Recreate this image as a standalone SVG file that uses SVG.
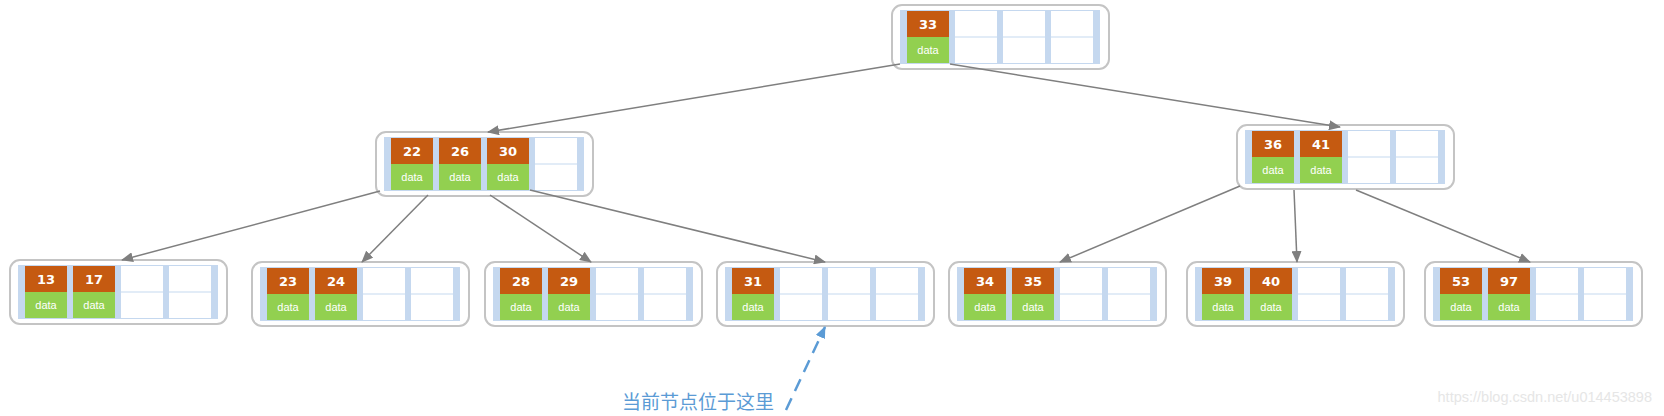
<svg xmlns="http://www.w3.org/2000/svg" xmlns:xlink="http://www.w3.org/1999/xlink" width="1664" height="416" viewBox="0 0 1664 416">
<style>
.outer{fill:#ffffff;stroke:#c4c4c4;stroke-width:2}
.band{fill:#c5d8ef}
.w{fill:#ffffff}
.k{fill:#c55a11}
.d{fill:#92d050}
.kt{font-family:"DejaVu Sans","Liberation Sans",sans-serif;font-size:13px;font-weight:bold;fill:#ffffff;text-anchor:middle}
.dt{font-family:"Liberation Sans",sans-serif;font-size:11px;fill:#ffffff;text-anchor:middle}
.edge{stroke:#7f7f7f;stroke-width:1.5;fill:none;marker-end:url(#arr)}
.note{stroke:#5b9bd5;stroke-width:2.5;fill:none;stroke-dasharray:13 8;marker-end:url(#arrb)}
</style>
<defs>
<marker id="arr" markerUnits="userSpaceOnUse" markerWidth="12" markerHeight="10" refX="11" refY="5" orient="auto">
<path d="M0,0 L12,5 L0,10 Z" fill="#7f7f7f"/>
</marker>
<marker id="arrb" markerUnits="userSpaceOnUse" markerWidth="12" markerHeight="10" refX="11" refY="5" orient="auto">
<path d="M0,0 L12,5 L0,10 Z" fill="#5b9bd5"/>
</marker>
<g id="tpl">
<rect class="outer" x="0" y="0" width="217" height="64" rx="10"/>
<rect class="band" x="8" y="5" width="200" height="54"/>
<rect class="w" x="15" y="6" width="42" height="25.5"/><rect class="w" x="15" y="32.5" width="42" height="25.5"/>
<rect class="w" x="63" y="6" width="42" height="25.5"/><rect class="w" x="63" y="32.5" width="42" height="25.5"/>
<rect class="w" x="111" y="6" width="42" height="25.5"/><rect class="w" x="111" y="32.5" width="42" height="25.5"/>
<rect class="w" x="159" y="6" width="42" height="25.5"/><rect class="w" x="159" y="32.5" width="42" height="25.5"/>
</g>
</defs>
<rect x="0" y="0" width="1664" height="416" fill="#ffffff"/>

<g id="n33" transform="translate(892,5)">
<use href="#tpl"/>
<rect class="k" x="15" y="6" width="42" height="26"/><rect class="d" x="15" y="32" width="42" height="26"/>
<text class="kt" x="36" y="24">33</text><text class="dt" x="36" y="49">data</text>
</g>

<g id="n22" transform="translate(376,132)">
<use href="#tpl"/>
<rect class="k" x="15" y="6" width="42" height="26"/><rect class="d" x="15" y="32" width="42" height="26"/>
<text class="kt" x="36" y="24">22</text><text class="dt" x="36" y="49">data</text>
<rect class="k" x="63" y="6" width="42" height="26"/><rect class="d" x="63" y="32" width="42" height="26"/>
<text class="kt" x="84" y="24">26</text><text class="dt" x="84" y="49">data</text>
<rect class="k" x="111" y="6" width="42" height="26"/><rect class="d" x="111" y="32" width="42" height="26"/>
<text class="kt" x="132" y="24">30</text><text class="dt" x="132" y="49">data</text>
</g>

<g id="n36" transform="translate(1237,125)">
<use href="#tpl"/>
<rect class="k" x="15" y="6" width="42" height="26"/><rect class="d" x="15" y="32" width="42" height="26"/>
<text class="kt" x="36" y="24">36</text><text class="dt" x="36" y="49">data</text>
<rect class="k" x="63" y="6" width="42" height="26"/><rect class="d" x="63" y="32" width="42" height="26"/>
<text class="kt" x="84" y="24">41</text><text class="dt" x="84" y="49">data</text>
</g>

<g id="n13" transform="translate(10,260)">
<use href="#tpl"/>
<rect class="k" x="15" y="6" width="42" height="26"/><rect class="d" x="15" y="32" width="42" height="26"/>
<text class="kt" x="36" y="24">13</text><text class="dt" x="36" y="49">data</text>
<rect class="k" x="63" y="6" width="42" height="26"/><rect class="d" x="63" y="32" width="42" height="26"/>
<text class="kt" x="84" y="24">17</text><text class="dt" x="84" y="49">data</text>
</g>

<g id="n23" transform="translate(252,262)">
<use href="#tpl"/>
<rect class="k" x="15" y="6" width="42" height="26"/><rect class="d" x="15" y="32" width="42" height="26"/>
<text class="kt" x="36" y="24">23</text><text class="dt" x="36" y="49">data</text>
<rect class="k" x="63" y="6" width="42" height="26"/><rect class="d" x="63" y="32" width="42" height="26"/>
<text class="kt" x="84" y="24">24</text><text class="dt" x="84" y="49">data</text>
</g>

<g id="n28" transform="translate(485,262)">
<use href="#tpl"/>
<rect class="k" x="15" y="6" width="42" height="26"/><rect class="d" x="15" y="32" width="42" height="26"/>
<text class="kt" x="36" y="24">28</text><text class="dt" x="36" y="49">data</text>
<rect class="k" x="63" y="6" width="42" height="26"/><rect class="d" x="63" y="32" width="42" height="26"/>
<text class="kt" x="84" y="24">29</text><text class="dt" x="84" y="49">data</text>
</g>

<g id="n31" transform="translate(717,262)">
<use href="#tpl"/>
<rect class="k" x="15" y="6" width="42" height="26"/><rect class="d" x="15" y="32" width="42" height="26"/>
<text class="kt" x="36" y="24">31</text><text class="dt" x="36" y="49">data</text>
</g>

<g id="n34" transform="translate(949,262)">
<use href="#tpl"/>
<rect class="k" x="15" y="6" width="42" height="26"/><rect class="d" x="15" y="32" width="42" height="26"/>
<text class="kt" x="36" y="24">34</text><text class="dt" x="36" y="49">data</text>
<rect class="k" x="63" y="6" width="42" height="26"/><rect class="d" x="63" y="32" width="42" height="26"/>
<text class="kt" x="84" y="24">35</text><text class="dt" x="84" y="49">data</text>
</g>

<g id="n39" transform="translate(1187,262)">
<use href="#tpl"/>
<rect class="k" x="15" y="6" width="42" height="26"/><rect class="d" x="15" y="32" width="42" height="26"/>
<text class="kt" x="36" y="24">39</text><text class="dt" x="36" y="49">data</text>
<rect class="k" x="63" y="6" width="42" height="26"/><rect class="d" x="63" y="32" width="42" height="26"/>
<text class="kt" x="84" y="24">40</text><text class="dt" x="84" y="49">data</text>
</g>

<g id="n53" transform="translate(1425,262)">
<use href="#tpl"/>
<rect class="k" x="15" y="6" width="42" height="26"/><rect class="d" x="15" y="32" width="42" height="26"/>
<text class="kt" x="36" y="24">53</text><text class="dt" x="36" y="49">data</text>
<rect class="k" x="63" y="6" width="42" height="26"/><rect class="d" x="63" y="32" width="42" height="26"/>
<text class="kt" x="84" y="24">97</text><text class="dt" x="84" y="49">data</text>
</g>

<g id="connectors">
<line class="edge" x1="900" y1="64" x2="488" y2="132"/>
<line class="edge" x1="950" y1="64" x2="1340" y2="127"/>
<line class="edge" x1="380" y1="191" x2="122" y2="260"/>
<line class="edge" x1="428" y1="195" x2="362" y2="262"/>
<line class="edge" x1="490" y1="195" x2="591" y2="262"/>
<line class="edge" x1="530" y1="190" x2="825" y2="262"/>
<line class="edge" x1="1240" y1="186" x2="1060" y2="262"/>
<line class="edge" x1="1294" y1="190" x2="1297" y2="262"/>
<line class="edge" x1="1356" y1="190" x2="1530" y2="262"/>
<path class="note" d="M786,410 L825,327"/>
</g>

<g id="label">
<text x="622" y="409" font-family="'Noto Sans CJK SC',sans-serif" font-size="19" fill="#5b9bd5">当前节点位于这里</text>
</g>
<text x="1652" y="402" font-family="'Liberation Sans',sans-serif" font-size="14.5" fill="#e6e6e6" text-anchor="end">https://blog.csdn.net/u014453898</text>
</svg>
